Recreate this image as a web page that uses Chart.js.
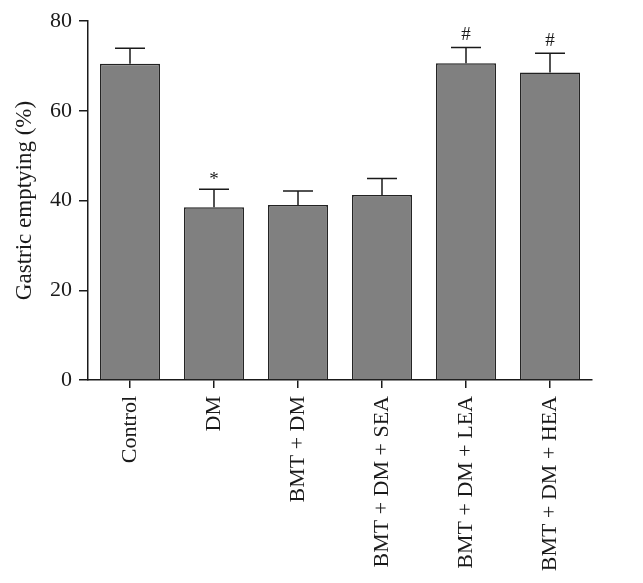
<!DOCTYPE html>
<html>
<head>
<meta charset="utf-8">
<script src="https://cdn.jsdelivr.net/npm/chart.js@4/dist/chart.umd.min.js"></script>
<style>
html,body{margin:0;padding:0;background:#fff;}
#wrap{width:643px;height:583px;position:relative;}
</style>
</head>
<body>
<div id="wrap"><canvas id="c" width="643" height="583"></canvas></div>
<script>
const categories = ['Control', 'DM', 'BMT + DM', 'BMT + DM + SEA', 'BMT + DM + LEA', 'BMT + DM + HEA'];
const means = [70.5, 38.5, 39.0, 41.2, 70.6, 68.5];
const errors = [3.4, 4.0, 3.1, 3.7, 3.5, 4.3];
const marks = ['', '*', '', '', '#', '#'];
const yTicks = [0, 20, 40, 60, 80];
const yTitle = 'Gastric emptying (%)';

const FONT = "'Liberation Serif', 'Times New Roman', serif";

const errorBarPlugin = {
  id: 'errorBars',
  afterDatasetsDraw(chart) {
    const ctx = chart.ctx;
    const meta = chart.getDatasetMeta(0);
    const y = chart.scales.y;
    ctx.save();
    ctx.strokeStyle = '#1a1a1a';
    ctx.lineWidth = 1.5;
    meta.data.forEach((bar, i) => {
      const top = y.getPixelForValue(means[i] + errors[i]);
      const base = bar.y;
      const half = bar.width / 4;
      ctx.beginPath();
      ctx.moveTo(bar.x, base);
      ctx.lineTo(bar.x, top);
      ctx.moveTo(bar.x - half, top);
      ctx.lineTo(bar.x + half, top);
      ctx.stroke();
      if (marks[i]) {
        ctx.fillStyle = '#1a1a1a';
        ctx.font = "19px " + FONT;
        ctx.textAlign = 'center';
        ctx.textBaseline = 'bottom';
        ctx.fillText(marks[i], bar.x, top - (marks[i] === '*' ? 0 : 3));
      }
    });
    ctx.restore();
  }
};

new Chart(document.getElementById('c'), {
  type: 'bar',
  data: {
    labels: categories,
    datasets: [{
      data: means,
      backgroundColor: '#808080',
      borderColor: '#222222',
      borderWidth: 1.5,
      borderSkipped: 'bottom',
      barPercentage: 0.714,
      categoryPercentage: 1.0
    }]
  },
  options: {
    responsive: false,
    animation: false,
    devicePixelRatio: 1,
    layout: { padding: { top: 21, right: 51, left: 0, bottom: 0 } },
    plugins: { legend: { display: false }, tooltip: { enabled: false } },
    scales: {
      x: {
        afterFit(s) { s.height = 203; },
        grid: { display: true, offset: false, drawOnChartArea: false, drawTicks: true, tickLength: 8, color: '#1a1a1a', lineWidth: 1.5 },
        border: { display: true, color: '#1a1a1a', width: 1.5 },
        ticks: {
          color: '#1a1a1a',
          font: { family: FONT, size: 22 },
          maxRotation: 90, minRotation: 90,
          padding: 8,
          autoSkip: false
        }
      },
      y: {
        min: 0, max: 80,
        afterFit(s) { s.width = 88; },
        afterBuildTicks(s) { s.ticks = yTicks.map(v => ({ value: v })); },
        grid: { display: true, drawOnChartArea: false, drawTicks: true, tickLength: 9, color: '#1a1a1a', lineWidth: 1.5 },
        border: { display: true, color: '#1a1a1a', width: 1.5 },
        ticks: {
          color: '#1a1a1a',
          font: { family: FONT, size: 22 },
          padding: 7
        },
        title: {
          display: true,
          text: yTitle,
          color: '#1a1a1a',
          font: { family: FONT, size: 23 },
          padding: { top: 11, bottom: 0 }
        }
      }
    }
  },
  plugins: [errorBarPlugin]
});
</script>
</body>
</html>
